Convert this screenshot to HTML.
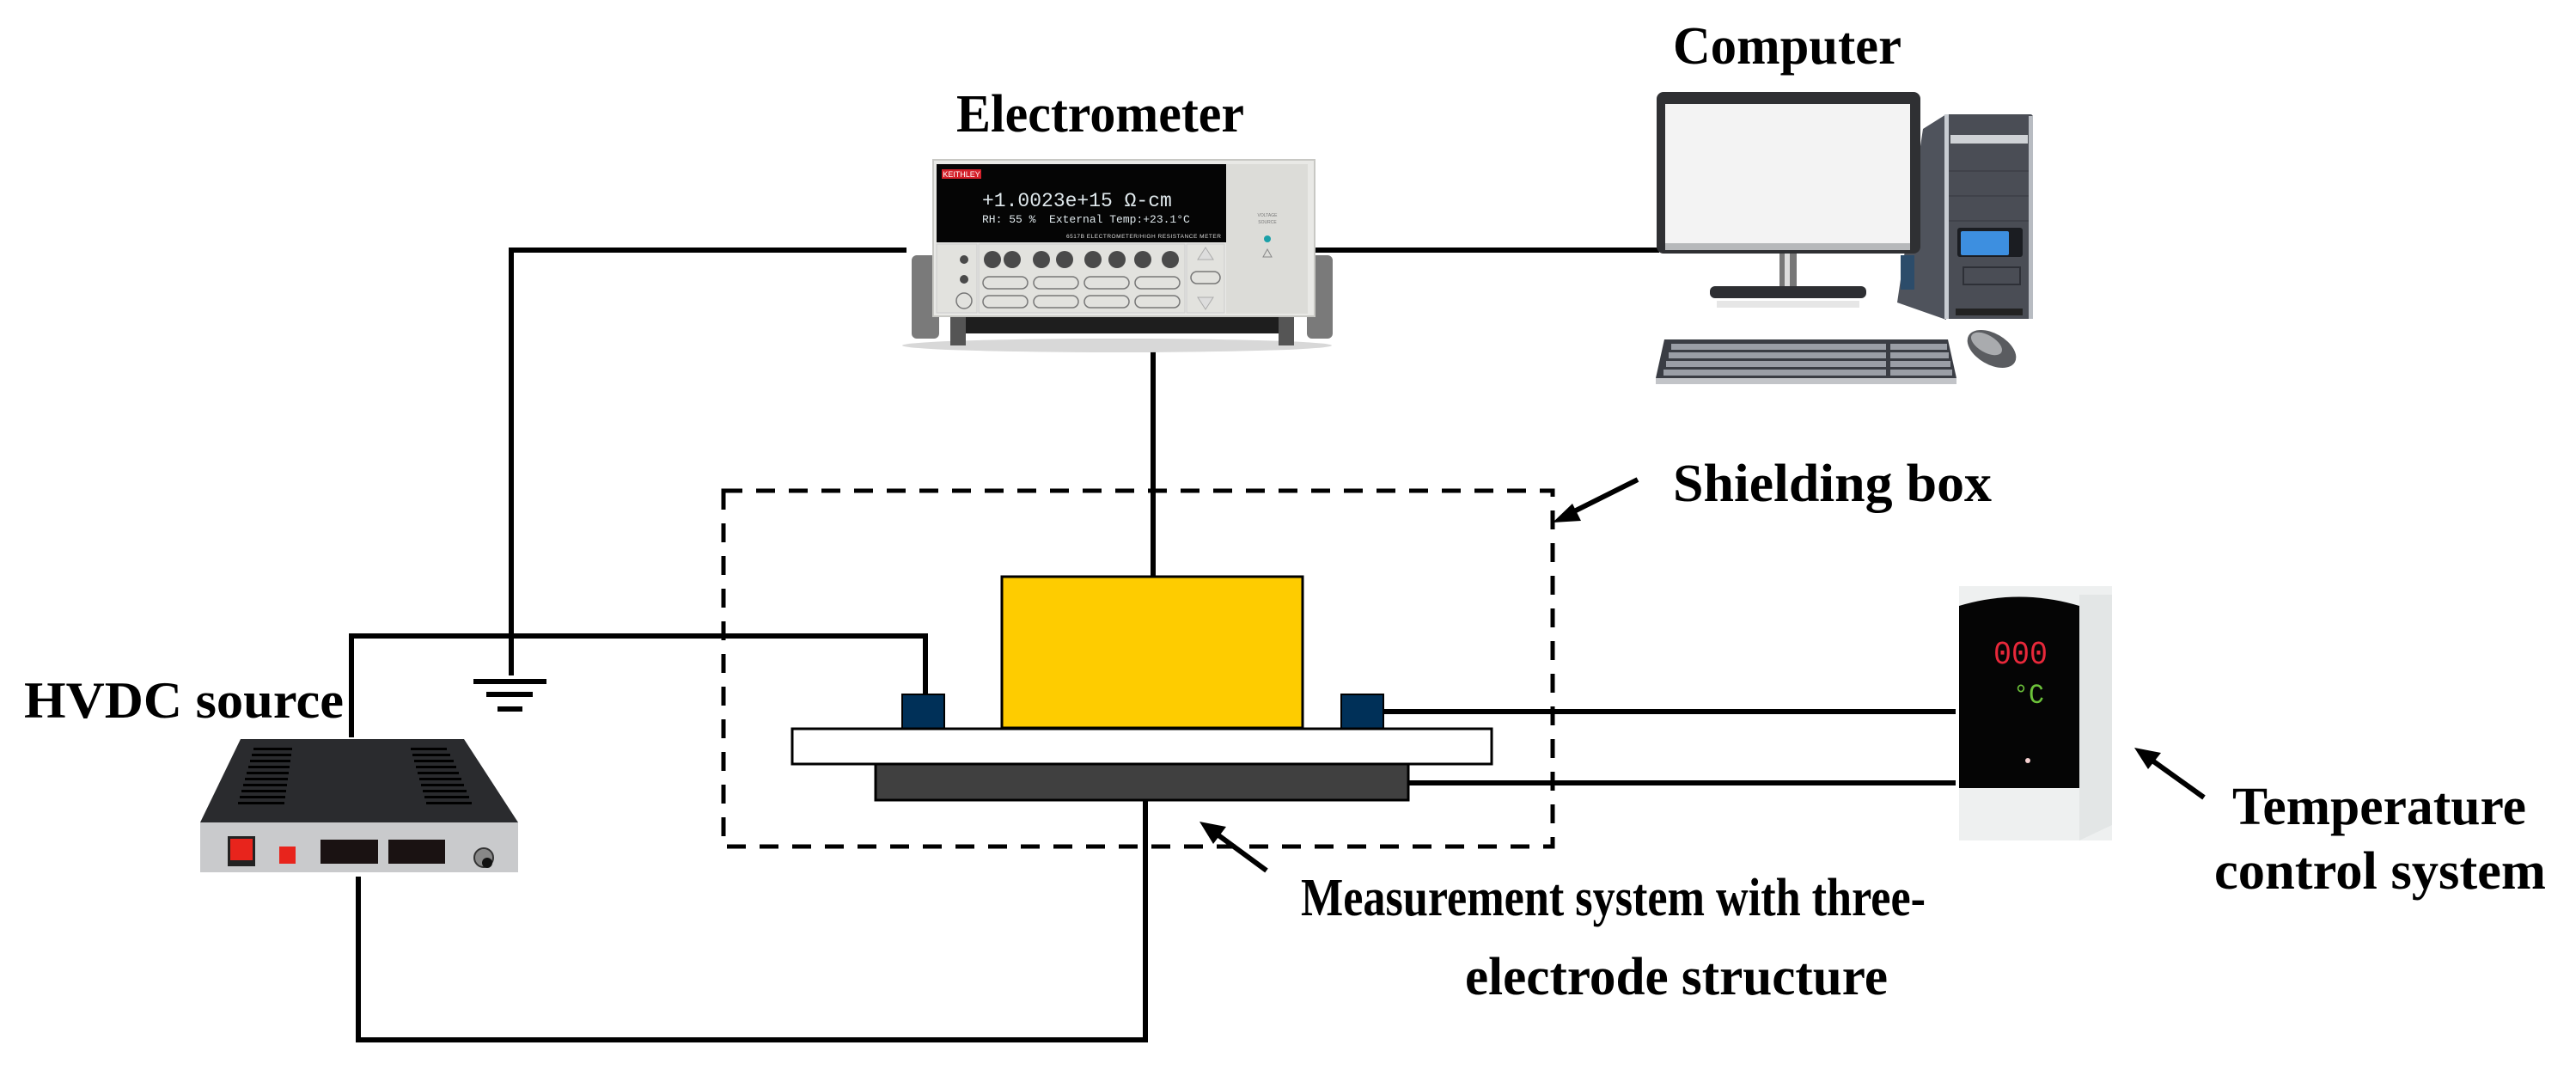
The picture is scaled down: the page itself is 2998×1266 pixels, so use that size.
<!DOCTYPE html>
<html><head><meta charset="utf-8"><style>html,body{margin:0;padding:0;background:#fff}svg{display:block}</style></head>
<body>
<svg width="2998" height="1266" viewBox="0 0 2998 1266" xmlns="http://www.w3.org/2000/svg" font-family="'Liberation Serif', serif">
<rect width="2998" height="1266" fill="#fff"/>
<!-- Labels -->
<g font-weight="bold" fill="#000">
<text x="1113" y="153" font-size="62" textLength="335" lengthAdjust="spacingAndGlyphs">Electrometer</text>
<text x="1947" y="74" font-size="62" textLength="266" lengthAdjust="spacingAndGlyphs">Computer</text>
<text x="1947" y="583" font-size="62" textLength="371" lengthAdjust="spacingAndGlyphs">Shielding box</text>
<text x="28" y="835" font-size="60" textLength="372" lengthAdjust="spacingAndGlyphs">HVDC source</text>
<text x="2598" y="959" font-size="62" textLength="342" lengthAdjust="spacingAndGlyphs">Temperature</text>
<text x="2577" y="1034" font-size="62" textLength="386" lengthAdjust="spacingAndGlyphs">control system</text>
<text x="1514" y="1065" font-size="62" textLength="727" lengthAdjust="spacingAndGlyphs">Measurement system with three-</text>
<text x="1705" y="1157" font-size="62" textLength="492" lengthAdjust="spacingAndGlyphs">electrode structure</text>
</g>

<!-- Shielding box -->
<rect x="842" y="571" width="965" height="414" fill="none" stroke="#000" stroke-width="5" stroke-dasharray="22 16"/>

<!-- Wires -->
<g stroke="#000" stroke-width="6" fill="none" stroke-linecap="square">
<polyline points="1052,291 595,291 595,783"/>
<line x1="1530" y1="291" x2="1928" y2="291"/>
<line x1="1342" y1="408" x2="1342" y2="671"/>
<polyline points="409,855 409,740 1077,740 1077,808"/>
<polyline points="417,1023 417,1210 1333,1210 1333,931"/>
<line x1="1610" y1="828" x2="2273" y2="828"/>
<line x1="1639" y1="911" x2="2273" y2="911"/>
<line x1="554" y1="793" x2="633" y2="793"/>
<line x1="569" y1="808" x2="617" y2="808"/>
<line x1="582" y1="825" x2="605" y2="825"/>
</g>

<!-- Sample structure -->
<rect x="1166" y="671" width="350" height="176" fill="#fecc00" stroke="#000" stroke-width="3"/>
<rect x="1050" y="808" width="49" height="40" fill="#003058" stroke="#000" stroke-width="2"/>
<rect x="1561" y="808" width="49" height="41" fill="#003058" stroke="#000" stroke-width="2"/>
<rect x="922" y="848" width="814" height="41" fill="#fff" stroke="#000" stroke-width="3"/>
<rect x="1019" y="889" width="620" height="42" fill="#404040" stroke="#000" stroke-width="3"/>

<!-- Arrows -->
<g stroke="#000" stroke-width="6" fill="#000">
<line x1="1906" y1="558" x2="1822" y2="600"/>
<polygon points="1807,608 1830,586 1840,606" stroke="none"/>
<line x1="1474" y1="1013" x2="1410" y2="966"/>
<polygon points="1396,956 1427,962 1412,982" stroke="none"/>
<line x1="2565" y1="928" x2="2498" y2="880"/>
<polygon points="2484,870 2515,876 2500,895" stroke="none"/>
</g>

<!-- Electrometer -->
<g>
<ellipse cx="1300" cy="402" rx="250" ry="8" fill="#d8d8d8"/>
<rect x="1061" y="297" width="32" height="97" rx="6" fill="#7a7a7a"/>
<rect x="1521" y="297" width="30" height="97" rx="6" fill="#7a7a7a"/>
<rect x="1111" y="366" width="390" height="22" fill="#1e1e1e"/>
<rect x="1106" y="366" width="18" height="36" fill="#555"/>
<rect x="1488" y="366" width="18" height="36" fill="#555"/>
<rect x="1086" y="186" width="444" height="182" fill="#e9e9e6" stroke="#c8c8c4" stroke-width="2"/>
<rect x="1090" y="191" width="337" height="91" fill="#050505"/>
<rect x="1096" y="197" width="46" height="11" fill="#d4202a"/>
<text x="1119" y="206" font-family="'Liberation Sans',sans-serif" font-size="9" fill="#fff" text-anchor="middle">KEITHLEY</text>
<text x="1143" y="240" font-family="'Liberation Mono',monospace" font-size="23" fill="#dfe8ec">+1.0023e+15 Ω-cm</text>
<text x="1143" y="259" font-family="'Liberation Mono',monospace" font-size="13" fill="#dfe8ec" xml:space="preserve">RH: 55 %  External Temp:+23.1°C</text>
<text x="1241" y="277" font-family="'Liberation Sans',sans-serif" font-size="6.5" fill="#ddd" textLength="180">6517B ELECTROMETER/HIGH RESISTANCE METER</text>
<rect x="1427" y="191" width="95" height="174" fill="#dcdcd8"/>
<circle cx="1475" cy="278" r="4" fill="#1aa0a8"/>
<text x="1475" y="252" font-family="'Liberation Sans',sans-serif" font-size="5" fill="#777" text-anchor="middle">VOLTAGE</text>
<text x="1475" y="260" font-family="'Liberation Sans',sans-serif" font-size="5" fill="#777" text-anchor="middle">SOURCE</text>
<polygon points="1475,290 1470,299 1480,299" fill="none" stroke="#888"/>
<rect x="1090" y="284" width="47" height="80" fill="#e2e2de" stroke="#ccc"/>
<rect x="1139" y="284" width="240" height="80" fill="#e2e2de" stroke="#ccc"/>
<rect x="1381" y="284" width="44" height="80" fill="#e2e2de" stroke="#ccc"/>
<g fill="#4a4a4a">
<circle cx="1155" cy="302" r="10"/><circle cx="1178" cy="302" r="10"/><circle cx="1212" cy="302" r="10"/><circle cx="1239" cy="302" r="10"/>
<circle cx="1272" cy="302" r="10"/><circle cx="1300" cy="302" r="10"/><circle cx="1330" cy="302" r="10"/><circle cx="1362" cy="302" r="10"/>
<circle cx="1122" cy="302" r="5"/><circle cx="1122" cy="325" r="5"/>
</g>
<g fill="none" stroke="#777" stroke-width="1.5">
<rect x="1144" y="322" width="52" height="14" rx="7"/><rect x="1203" y="322" width="52" height="14" rx="7"/><rect x="1262" y="322" width="52" height="14" rx="7"/><rect x="1321" y="322" width="52" height="14" rx="7"/>
<rect x="1144" y="344" width="52" height="14" rx="7"/><rect x="1203" y="344" width="52" height="14" rx="7"/><rect x="1262" y="344" width="52" height="14" rx="7"/><rect x="1321" y="344" width="52" height="14" rx="7"/>
<rect x="1386" y="316" width="34" height="14" rx="7"/>
<circle cx="1122" cy="350" r="9"/>
</g>
<polygon points="1403,288 1394,302 1412,302" fill="#ddd" stroke="#aaa"/>
<polygon points="1403,360 1394,346 1412,346" fill="#ddd" stroke="#aaa"/>
</g>

<!-- Computer -->
<g>
<!-- tower -->
<polygon points="2208,352 2238,150 2265,133 2265,372" fill="#4f535c"/>
<rect x="2265" y="133" width="101" height="238" rx="3" fill="#4a4d55"/>
<rect x="2263" y="133" width="5" height="238" fill="#c8ccd2"/>
<rect x="2361" y="135" width="5" height="236" fill="#b8bcc2"/>
<rect x="2270" y="157" width="90" height="10" fill="#cfd2d6"/>
<line x1="2268" y1="199" x2="2361" y2="199" stroke="#3c3f46" stroke-width="1.5"/>
<line x1="2268" y1="228" x2="2361" y2="228" stroke="#3c3f46" stroke-width="1.5"/>
<line x1="2268" y1="257" x2="2361" y2="257" stroke="#3c3f46" stroke-width="1.5"/>
<rect x="2278" y="265" width="76" height="34" rx="3" fill="#1b1d22"/>
<rect x="2282" y="269" width="56" height="28" rx="2" fill="#3d8fe0"/>
<rect x="2285" y="311" width="66" height="20" fill="none" stroke="#2e3037" stroke-width="2"/>
<rect x="2276" y="359" width="78" height="8" fill="#222"/>
<rect x="2212" y="297" width="16" height="40" fill="#2c4c6a"/>
<!-- monitor -->
<rect x="1928" y="107" width="307" height="188" rx="8" fill="#2f3033"/>
<rect x="1938" y="121" width="285" height="162" fill="#f3f3f3"/>
<rect x="1938" y="283" width="285" height="8" fill="#b6b8ba"/>
<rect x="2071" y="295" width="20" height="38" fill="#777"/>
<rect x="2077" y="295" width="6" height="38" fill="#ddd"/>
<rect x="1990" y="333" width="182" height="14" rx="6" fill="#2e2f33"/>
<rect x="1998" y="350" width="166" height="8" fill="#e6e6e6"/>
<!-- keyboard -->
<polygon points="1937,395 2267,395 2277,440 1927,440" fill="#3a3d44"/>
<rect x="1927" y="440" width="350" height="7" fill="#c2c4c8"/>
<g fill="#9a9ea6">
<rect x="1945" y="400" width="250" height="7"/><rect x="1942" y="410" width="253" height="7"/><rect x="1939" y="420" width="256" height="7"/><rect x="1936" y="430" width="259" height="7"/>
<rect x="2200" y="400" width="66" height="7"/><rect x="2200" y="410" width="68" height="7"/><rect x="2200" y="420" width="70" height="7"/><rect x="2200" y="430" width="72" height="7"/>
</g>
<!-- mouse -->
<ellipse cx="2318" cy="406" rx="31" ry="18" transform="rotate(30 2318 406)" fill="#5a5c60"/>
<ellipse cx="2312" cy="400" rx="20" ry="10" transform="rotate(30 2312 400)" fill="#a9abae"/>
</g>

<!-- HVDC source -->
<g>
<polygon points="280,860 540,860 603,957 233,957" fill="#2a2b2e"/>
<g fill="#000">
<rect x="295" y="870" width="45" height="3"/><rect x="293" y="877" width="46" height="3"/><rect x="291" y="884" width="47" height="3"/><rect x="289" y="891" width="48" height="3"/><rect x="287" y="898" width="49" height="3"/><rect x="285" y="905" width="50" height="3"/><rect x="283" y="912" width="51" height="3"/><rect x="281" y="919" width="52" height="3"/><rect x="279" y="926" width="53" height="3"/><rect x="277" y="933" width="54" height="3"/>
<rect x="478" y="870" width="42" height="3"/><rect x="480" y="877" width="44" height="3"/><rect x="482" y="884" width="46" height="3"/><rect x="484" y="891" width="47" height="3"/><rect x="486" y="898" width="48" height="3"/><rect x="488" y="905" width="49" height="3"/><rect x="490" y="912" width="50" height="3"/><rect x="492" y="919" width="51" height="3"/><rect x="494" y="926" width="52" height="3"/><rect x="496" y="933" width="53" height="3"/>
</g>
<rect x="233" y="957" width="370" height="58" fill="#c9cacc"/>
<rect x="265" y="973" width="32" height="35" fill="#222"/>
<rect x="268" y="976" width="26" height="25" fill="#e8241c"/>
<rect x="325" y="985" width="19" height="20" fill="#e8241c"/>
<rect x="373" y="977" width="67" height="28" fill="#1a1212"/>
<rect x="452" y="977" width="66" height="28" fill="#1a1212"/>
<circle cx="563" cy="998" r="11" fill="#888" stroke="#333" stroke-width="2"/>
<circle cx="567" cy="1004" r="6" fill="#111"/>
</g>

<!-- Temperature controller -->
<g>
<rect x="2280" y="682" width="178" height="296" fill="#eef0f0"/>
<polygon points="2420,692 2458,692 2458,960 2420,978" fill="#e3e6e6"/>
<path d="M2280,917 L2280,705 Q2350,684 2420,705 L2420,917 Z" fill="#050505"/>
<text x="2320" y="772" font-family="'Liberation Mono',monospace" font-size="38" fill="#e8283a" textLength="63" lengthAdjust="spacingAndGlyphs">000</text>
<text x="2343" y="818" font-family="'Liberation Mono',monospace" font-size="32" fill="#6cc23a" textLength="36" lengthAdjust="spacingAndGlyphs">°C</text>
<circle cx="2360" cy="885" r="3" fill="#f5d0d0"/>
</g>
</svg>
</body></html>
